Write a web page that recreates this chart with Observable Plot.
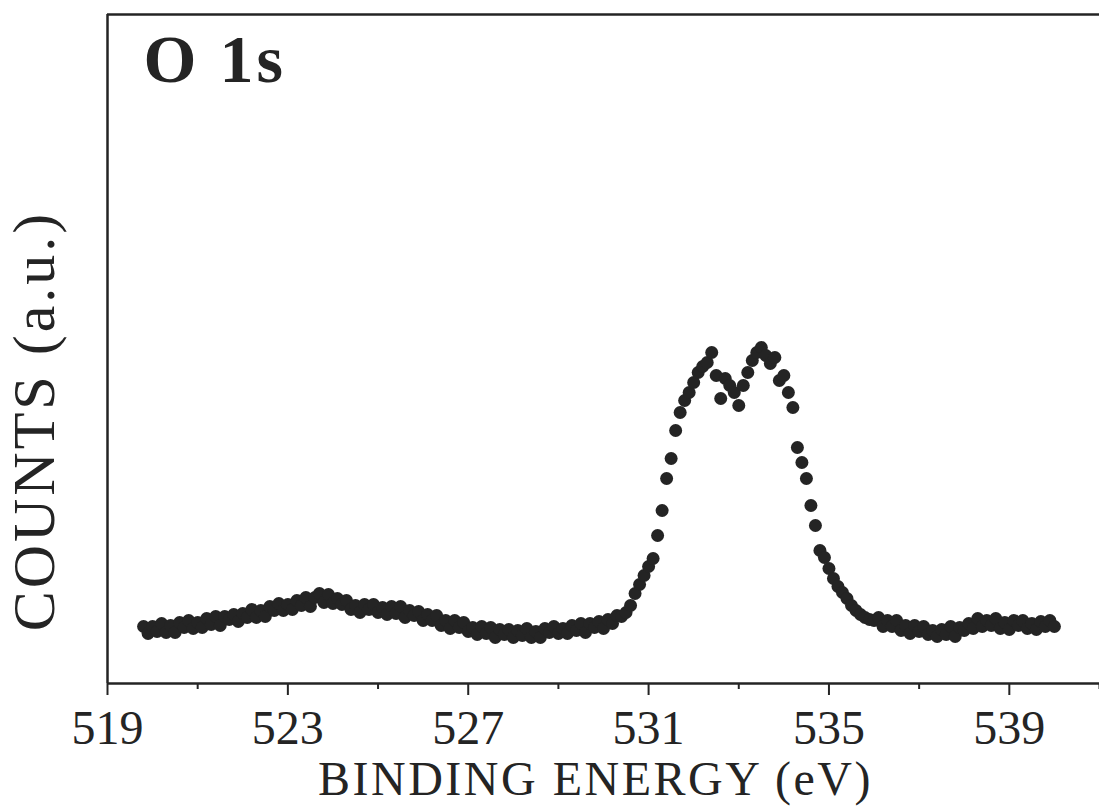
<!DOCTYPE html>
<html>
<head>
<meta charset="utf-8">
<script src="https://cdn.jsdelivr.net/npm/d3@7"></script>
<script src="https://cdn.jsdelivr.net/npm/@observablehq/plot@0.6"></script>
<style>
  html, body { margin: 0; padding: 0; background: #fff; }
</style>
</head>
<body>
<div id="chart"></div>
<script>
// Binding energy (eV) of each measured point
const energy = [
  519.8, 519.9, 520.0, 520.1, 520.2, 520.3, 520.4, 520.5, 520.6, 520.7,
  520.8, 520.9, 521.0, 521.1, 521.2, 521.3, 521.4, 521.5, 521.6, 521.7,
  521.8, 521.9, 522.0, 522.1, 522.2, 522.3, 522.4, 522.5, 522.6, 522.7,
  522.8, 522.9, 523.0, 523.1, 523.2, 523.3, 523.4, 523.5, 523.6, 523.7,
  523.8, 523.9, 524.0, 524.1, 524.2, 524.3, 524.4, 524.5, 524.6, 524.7,
  524.8, 524.9, 525.0, 525.1, 525.2, 525.3, 525.4, 525.5, 525.6, 525.7,
  525.8, 525.9, 526.0, 526.1, 526.2, 526.3, 526.4, 526.5, 526.6, 526.7,
  526.8, 526.9, 527.0, 527.1, 527.2, 527.3, 527.4, 527.5, 527.6, 527.7,
  527.8, 527.9, 528.0, 528.1, 528.2, 528.3, 528.4, 528.5, 528.6, 528.7,
  528.8, 528.9, 529.0, 529.1, 529.2, 529.3, 529.4, 529.5, 529.6, 529.7,
  529.8, 529.9, 530.0, 530.1, 530.2, 530.3,
  530.4, 530.5, 530.6, 530.7, 530.8, 530.9, 531.0, 531.1, 531.2, 531.3,
  531.4, 531.5, 531.6, 531.7, 531.8, 531.9, 532.0, 532.1, 532.2, 532.3,
  532.4, 532.5, 532.6, 532.7, 532.8, 532.9, 533.0, 533.1, 533.2, 533.3,
  533.4, 533.5, 533.6, 533.7, 533.8, 533.9, 534.0, 534.1, 534.2, 534.3,
  534.4, 534.5, 534.6, 534.7, 534.8, 534.9, 535.0, 535.1, 535.2, 535.3,
  535.4, 535.5, 535.6, 535.7, 535.8, 535.9, 536.0,
  536.1, 536.2, 536.3, 536.4, 536.5, 536.6, 536.7, 536.8, 536.9, 537.0,
  537.1, 537.2, 537.3, 537.4, 537.5, 537.6, 537.7, 537.8, 537.9, 538.0,
  538.1, 538.2, 538.3, 538.4, 538.5, 538.6, 538.7, 538.8, 538.9, 539.0,
  539.1, 539.2, 539.3, 539.4, 539.5, 539.6, 539.7, 539.8, 539.9, 540.0
];

// Counts (arbitrary units)
const counts = [
  57, 50, 57, 52, 60, 51, 58, 51, 61, 56,
  63, 55, 61, 56, 65, 59, 67, 58, 67, 64,
  69, 62, 70, 66, 74, 66, 73, 67, 77, 73,
  80, 73, 79, 74, 83, 78, 86, 77, 86, 90,
  81, 89, 80, 85, 79, 83, 74, 78, 71, 79,
  74, 79, 71, 76, 69, 77, 70, 77, 66, 73,
  68, 72, 63, 69, 63, 68, 58, 63, 55, 63,
  56, 61, 52, 56, 49, 57, 50, 56, 46, 54,
  49, 54, 46, 53, 48, 55, 46, 52, 46, 55,
  51, 57, 50, 55, 50, 58, 53, 60, 51, 60,
  56, 62, 55, 64, 60, 68,
  67, 71, 78, 90, 99, 108, 117, 125, 148, 173,
  205, 225, 253, 271, 283, 291, 301, 311, 317, 321,
  331, 308, 285, 305, 298, 291, 278, 298, 311, 323,
  331, 336, 328, 320, 326, 303, 308, 291, 276, 236,
  221, 205, 178, 158, 133, 126, 115, 105, 97, 91,
  85, 78, 73, 69, 66, 64, 63,
  66, 57, 63, 57, 63, 53, 58, 50, 58, 52,
  57, 49, 53, 47, 54, 49, 57, 47, 56, 53,
  60, 55, 65, 57, 63, 58, 65, 55, 61, 54,
  63, 58, 63, 55, 60, 54, 62, 57, 63, 57
];

const majorTicks = [519, 523, 527, 531, 535, 539];
const minorTicks = [521, 525, 529, 533, 537, 541];
const xDomain = [519, 541];
const yDomain = [0, 669];
const titleText = ["O 1s"];
const xLabelText = ["BINDING ENERGY (eV)"];
const yLabelText = ["COUNTS (a.u.)"];

const data = energy.map((e, i) => ({energy: e, counts: counts[i]}));
const ink = "#242424";
const font = "'Liberation Serif', 'Times New Roman', serif";

const chart = Plot.plot({
  width: 1099,
  height: 809,
  marginLeft: 107,
  marginRight: 0,
  marginTop: 14,
  marginBottom: 126,
  style: {fontFamily: font, fontSize: "48px", color: ink, background: "#fff"},
  x: {domain: xDomain},
  y: {domain: yDomain, axis: null},
  marks: [
    Plot.ruleX([xDomain[0]], {stroke: ink, strokeWidth: 2.5}),
    Plot.ruleY([yDomain[1]], {stroke: ink, strokeWidth: 2.5}),
    Plot.ruleY([yDomain[0]], {stroke: ink, strokeWidth: 2.5}),
    Plot.axisX({ticks: majorTicks, tickSize: 12, tickPadding: 14, tickFormat: d => String(d),
                fontSize: 48, fontFamily: font, strokeWidth: 2, stroke: ink, fill: ink, label: null}),
    Plot.axisX({ticks: minorTicks, tickSize: 6, tickFormat: () => "", strokeWidth: 2, stroke: ink, label: null}),
    Plot.dot(data, {x: "energy", y: "counts", r: 6.5, fill: ink, stroke: "none"}),
    Plot.text(titleText, {text: d => d, frameAnchor: "top-left", textAnchor: "start",
                          lineAnchor: "top", dx: 36, dy: 19, fontSize: 68, fontWeight: "bold", fontFamily: font, fill: ink}),
    Plot.text(xLabelText, {text: d => d, frameAnchor: "bottom", textAnchor: "middle", lineAnchor: "top",
                           dx: -8, dy: 77, fontSize: 48, fontFamily: font, fill: ink}),
    Plot.text(yLabelText, {text: d => d, frameAnchor: "left", textAnchor: "middle", rotate: -90,
                           lineAnchor: "middle", dx: -73, dy: 72, fontSize: 60, fontFamily: font, fill: ink})
  ]
});

// widen the serif labels a little to match the original typeface's set width
const spacing = new Map([[titleText[0], "3px"], [xLabelText[0], "2.5px"], [yLabelText[0], "3px"]]);
d3.select(chart).selectAll("text").each(function () {
  const s = spacing.get(this.textContent);
  if (s) this.style.letterSpacing = s;
});

document.getElementById("chart").appendChild(chart);
</script>
</body>
</html>
